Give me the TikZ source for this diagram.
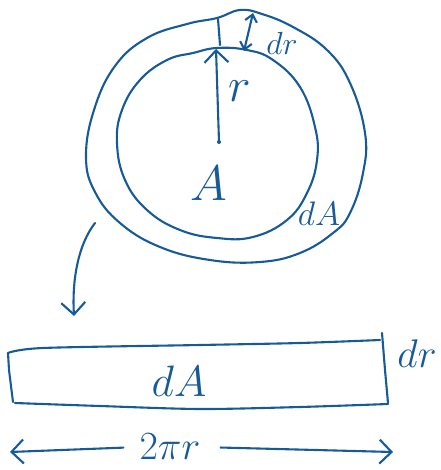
\RequirePackage{fix-cm}
\documentclass[tikz,border=0pt]{standalone}
\usepackage{xcolor}
\usetikzlibrary{arrows.meta}
\definecolor{penblue}{HTML}{175A98}
\newcommand{\penfont}[1]{\fontsize{#1}{#1}\selectfont}

\begin{document}
\begin{tikzpicture}[
  x=1pt,
  y=-1pt,
  every node/.style={penblue, inner sep=0pt},
  stroke/.style={penblue, line width=2.1pt, line cap=round, line join=round},
  barb/.style={stroke, -{Straight Barb[length=12pt, width=24pt]}},
  smallbarb/.style={stroke,
    {Straight Barb[length=7pt, width=12pt]}-{Straight Barb[length=7pt, width=12pt]}}
]
  \useasboundingbox (0,0) rectangle (440,470);

  % ================= the two circles ====================================
  \draw[stroke] plot[smooth cycle, tension=0.7] coordinates {
    (217,18) (240,10) (262,14) (293,27) (327,50) (350,83) (365,133)
    (363,173) (350,213) (333,233) (300,253) (260,262) (210,260)
    (160,247) (120,223) (95,192) (86,157) (94,110) (115,66) (147,38)
    (187,24)};
  \draw[stroke] plot[smooth cycle, tension=0.7] coordinates {
    (217,48) (247,50) (273,60) (300,87) (315,127) (317,160) (307,193)
    (287,220) (253,237) (217,238) (180,230) (147,210) (125,180)
    (117,143) (122,110) (140,80) (167,60) (193,53)};

  % radius, from the centre up to the inner circle
  \coordinate (centre) at (219,142);
  \coordinate (innertop) at (216,49);
  \fill[penblue] (centre) circle (2pt);
  \draw[barb] (centre) -- (innertop);

  % the ring's width
  \coordinate (outertop) at (218,19);
  \coordinate (outerfoot) at (220,45);
  \draw[stroke] (outertop) -- (outerfoot);
  \coordinate (drtop) at (253,13);
  \coordinate (drfoot) at (244,51);
  \draw[smallbarb] (drfoot) -- (drtop);

  \node[font=\penfont{32}] (drring) at (282,43) {$dr$};
  \node[font=\penfont{48}] (rlabel) at (240,91) {$r$};
  \node[font=\penfont{50}] (alabel) at (209,183) {$A$};
  \node[font=\penfont{34}] (dAring) at (319,214) {$dA$};

  % ================= the arrow down to the strip ========================
  \coordinate (unroll) at (95,223);
  \coordinate (unrolled) at (74,316);
  \draw[barb] (unroll) .. controls (78,245) and (72,280) .. (unrolled);

  % ================= the strip ==========================================
  \draw[stroke] plot[smooth, tension=0.5] coordinates {
    (8,353) (43,348) (200,345) (300,343) (380,340)};
  \draw[stroke] (382,333) -- (385,370) -- (388,403);
  \draw[stroke] plot[smooth, tension=0.5] coordinates {
    (388,404) (300,407) (200,409) (100,406) (15,403)};
  \draw[stroke] (13,402) -- (9,370) -- (8,353);

  \node[font=\penfont{44}] (dAstrip) at (179,381) {$dA$};
  \node[font=\penfont{40}] (drstrip) at (417,354) {$dr$};

  % ================= the strip's length =================================
  \node[font=\penfont{40}] (length) at (170,447) {$2\pi r$};
  \coordinate (lengthL) at (10,452);
  \coordinate (lengthR) at (393,452);
  \draw[barb, shorten <=16pt] (length.west) -- (lengthL);
  \draw[barb, shorten <=20pt] (length.east) -- (lengthR);
\end{tikzpicture}
\end{document}
